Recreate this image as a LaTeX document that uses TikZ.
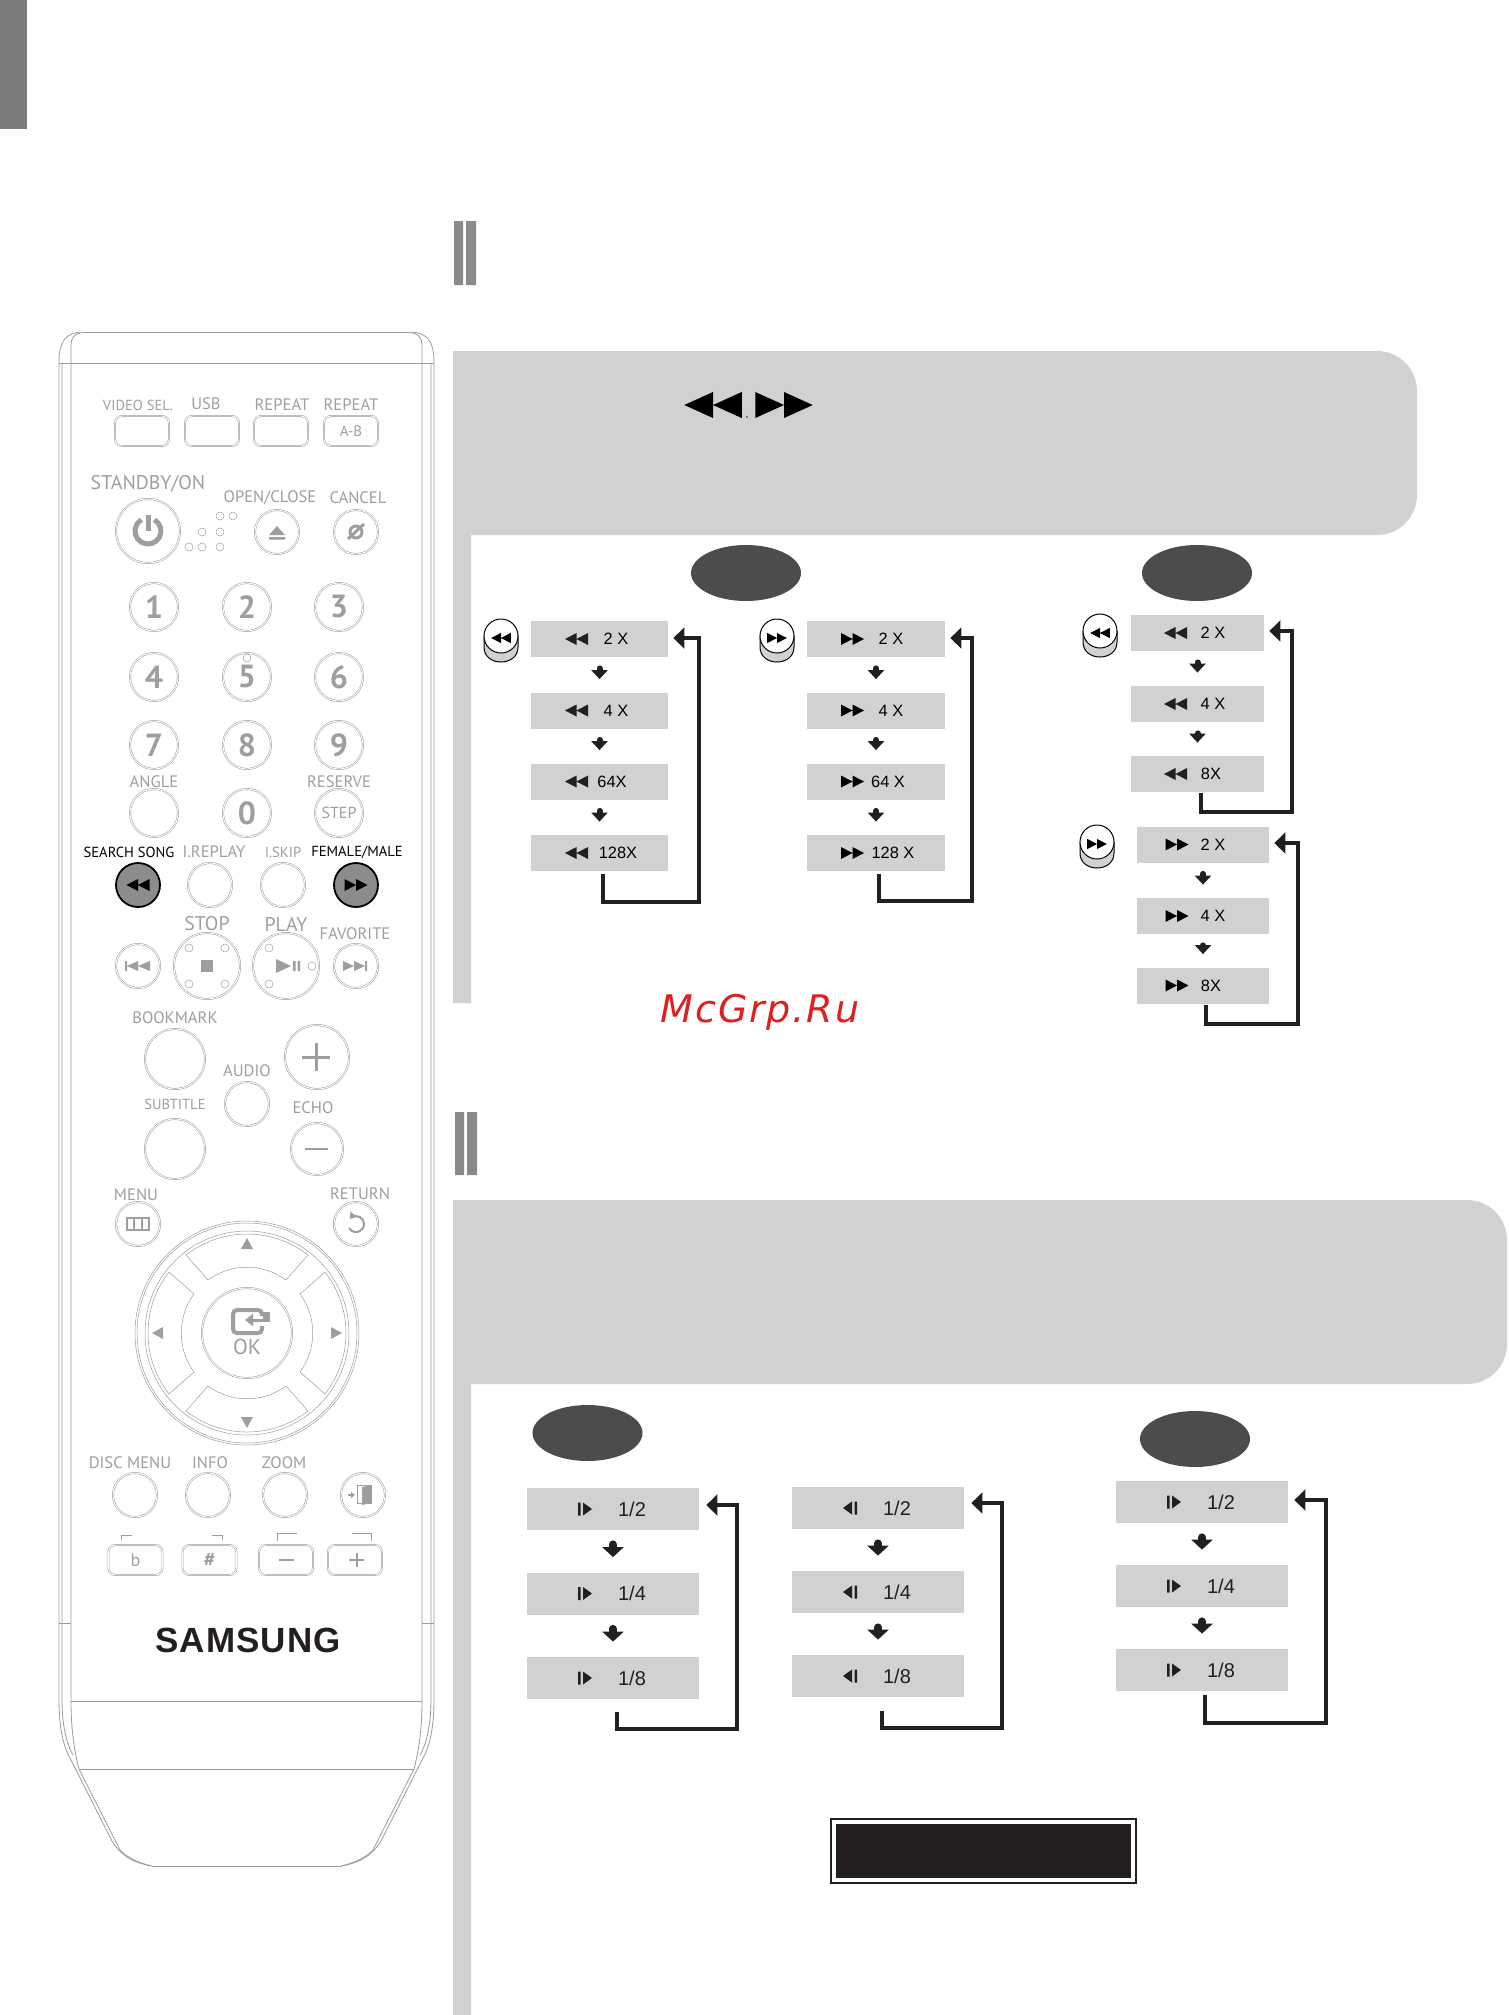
\documentclass[tikz,border=0pt]{standalone}
\usepackage{fontspec}
\setmainfont{Liberation Sans}
\newfontfamily\rcfont{PT Sans}
\newfontfamily\markfont[LetterSpace=5]{DejaVu Sans}
\newfontfamily\logofont[LetterSpace=3]{Liberation Sans}
\usetikzlibrary{arrows.meta,shapes.geometric}

\definecolor{panelgray}{HTML}{D1D1D1}
\definecolor{ovalgray}{HTML}{4D4B4C}
\definecolor{inkdark}{HTML}{231F20}
\definecolor{rcline}{HTML}{9C9C9C}
\definecolor{rctext}{HTML}{9E9E9E}
\definecolor{markred}{HTML}{DF2020}

\tikzset{
    % speed charts
    speedbox/.style 2 args={fill=panelgray,minimum width=#1*0.5pt,minimum height=#2*0.5pt,inner sep=0pt},
    speedtext/.style={inner sep=0pt,font=\fontsize{8.2}{10}\selectfont,text=black},
    slowtext/.style={inner sep=0pt,font=\fontsize{10}{12}\selectfont,text=inkdark},
    tagoval/.style={ellipse,fill=ovalgray,minimum width=110*0.5pt,minimum height=56*0.5pt,inner sep=0pt},
    loopline/.style={draw=inkdark,line width=1.75pt,-{Triangle[length=5.5pt,width=10.5pt]}},
    steparrow/.style={draw=inkdark,line width=3pt,line cap=round,-{Triangle[length=4.5pt,width=8pt]},shorten <=5.5pt,shorten >=6.5pt},
    bigsteparrow/.style={draw=inkdark,line width=4pt,line cap=round,-{Triangle[length=5pt,width=10.5pt]},shorten <=7pt,shorten >=7.5pt},
    % remote
    rcbody/.style={draw=rcline,line width=0.4pt},
    rcbtn/.style={circle,draw=rcline,line width=0.25pt,double=white,double distance=0.45pt,minimum size=#1*0.5pt,inner sep=0pt,text=rctext},
    rcbar/.style={rectangle,rounded corners=3.5pt,draw=rcline,line width=0.25pt,double=white,double distance=0.45pt,minimum width=54*0.5pt,minimum height=30*0.5pt,inner sep=0pt,text=rctext},
    rclabel/.style={inner sep=0pt,text=rctext,font=\rcfont\fontsize{8.3}{10}\selectfont},
    rclabelsmall/.style={inner sep=0pt,text=rctext,font=\rcfont\fontsize{7.3}{9}\selectfont},
    rclabelbig/.style={inner sep=0pt,text=rctext,font=\rcfont\fontsize{9.9}{11}\selectfont},
    rcdigit/.style={font=\rcfont\bfseries\fontsize{16}{18}\selectfont},
    rcdot/.style={draw=rcline,line width=0.25pt},
    rcicon/.style={fill=rctext,draw=none},
    rcstroke/.style={draw=rctext,line width=#1*0.5pt},
    % little marks
    revmark/.pic={\fill (-11.5,0)--(0,-6)--(0,6)--cycle (0,0)--(11.5,-6)--(11.5,6)--cycle;},
    fwdmark/.pic={\fill (11.5,0)--(0,-6)--(0,6)--cycle (0,0)--(-11.5,-6)--(-11.5,6)--cycle;},
    stepfwd/.pic={\fill (-7,-6.5) rectangle (-4.5,6.5) (-2,-6.5)--(7,0)--(-2,6.5)--cycle;},
    steprev/.pic={\fill (7,-6.5) rectangle (4.5,6.5) (2,-6.5)--(-7,0)--(2,6.5)--cycle;},
    keycap/.pic={
        \filldraw[fill=panelgray,draw=black,line width=0.5pt] (-17,-4) -- (-17,7) .. controls (-17,27) and (17,27) .. (17,7) -- (17,-4) -- cycle;
        \filldraw[fill=white,draw=black,line width=0.5pt] (0,-4) ellipse[x radius=17,y radius=17];
    },
}

\begin{document}
\begin{tikzpicture}[x=0.5pt,y=-0.5pt]
\useasboundingbox (0,0) rectangle (1509,2015);

% Page marks
\fill[fill=black!52!white] (0,0) rectangle (27,129);
\fill[fill=black!46!white] (454,221) rectangle (463,285) (466,221) rectangle (476,285);
\fill[fill=black!46!white] (455,1112) rectangle (464,1175) (467,1112) rectangle (477,1175);

% Panels
\fill[panelgray] (453,351) [rounded corners=20pt] -- (1417,351) -- (1417,535) [sharp corners] -- (471,535) -- (471,1003) -- (453,1003) -- cycle;
\fill[panelgray] (453,1200) [rounded corners=20pt] -- (1507,1200) -- (1507,1384) [sharp corners] -- (471,1384) -- (471,2015) -- (453,2015) -- cycle;

% Heading marks
\pic[black,xscale=2.5,yscale=2.17] at (713,405) {revmark};
\pic[black,xscale=2.5,yscale=2.17] at (784,405) {fwdmark};
\node[inner sep=0pt,font=\fontsize{5}{6}\selectfont] (headcomma) at (747,418) {,};

% Ovals
\node[tagoval] (ovala) at (746,573) {};
\node[tagoval] (ovalb) at (1197,573) {};
\node[tagoval] (ovalc) at (587.5,1433) {};
\node[tagoval] (ovald) at (1195,1439) {};

% Key icons
\pic at (501,640) {keycap};
\pic at (777,640) {keycap};
\pic at (1100,635) {keycap};
\pic at (1097,846) {keycap};
\pic[black,scale=0.85] at (501,638) {revmark};
\pic[black,scale=0.85] at (777,638) {fwdmark};
\pic[black,scale=0.85] at (1100,633) {revmark};
\pic[black,scale=0.85] at (1097,844) {fwdmark};

% Charts
\foreach \n/\cy/\tx/\t in {a/639/616/{2 X},b/710.5/616/{4 X},c/781.5/612/{64X},d/853/618/{128X}}{
    \node[speedbox={137}{36}] (one\n) at (599.5,\cy) {};
    \pic[inkdark] at (576.5,\cy) {revmark};
    \node[speedtext] (onet\n) at (\tx,\cy) {\t};
}
\foreach \n/\cy/\tx/\t in {a/639/891/{2 X},b/710.5/891/{4 X},c/781.5/888/{64 X},d/853/893/{128 X}}{
    \node[speedbox={138}{36}] (two\n) at (876,\cy) {};
    \pic[black] at (852.5,\cy) {fwdmark};
    \node[speedtext] (twot\n) at (\tx,\cy) {\t};
}
\foreach \n/\cy/\tx/\t in {a/633/1213/{2 X},b/704/1213/{4 X},c/774/1211/{8X}}{
    \node[speedbox={133}{36}] (thr\n) at (1197.5,\cy) {};
    \pic[inkdark] at (1175.5,\cy) {revmark};
    \node[speedtext] (thrt\n) at (\tx,\cy) {\t};
}
\foreach \n/\cy/\tx/\t in {a/844.5/1213/{2 X},b/916/1213/{4 X},c/985.5/1211/{8X}}{
    \node[speedbox={132}{36}] (fou\n) at (1203,\cy) {};
    \pic[black] at (1177,\cy) {fwdmark};
    \node[speedtext] (fout\n) at (\tx,\cy) {\t};
}
\foreach \n/\cy/\t in {a/1509/{1/2},b/1593.5/{1/4},c/1678/{1/8}}{
    \node[speedbox={172}{42}] (fiv\n) at (613,\cy) {};
    \pic[inkdark] at (585,\cy) {stepfwd};
    \node[slowtext] (fivt\n) at (632,\cy) {\t};
}
\foreach \n/\cy/\t in {a/1508/{1/2},b/1592/{1/4},c/1676/{1/8}}{
    \node[speedbox={172}{42}] (six\n) at (878,\cy) {};
    \pic[inkdark] at (850,\cy) {steprev};
    \node[slowtext] (sixt\n) at (897,\cy) {\t};
}
\foreach \n/\cy/\t in {a/1502/{1/2},b/1586/{1/4},c/1670/{1/8}}{
    \node[speedbox={172}{42}] (sev\n) at (1202,\cy) {};
    \pic[inkdark] at (1174,\cy) {stepfwd};
    \node[slowtext] (sevt\n) at (1221,\cy) {\t};
}

% Steps
\draw[steparrow] (onea) -- (oneb);
\draw[steparrow] (oneb) -- (onec);
\draw[steparrow] (onec) -- (oned);
\draw[steparrow] (twoa) -- (twob);
\draw[steparrow] (twob) -- (twoc);
\draw[steparrow] (twoc) -- (twod);
\draw[steparrow] (thra) -- (thrb);
\draw[steparrow] (thrb) -- (thrc);
\draw[steparrow] (foua) -- (foub);
\draw[steparrow] (foub) -- (fouc);
\draw[bigsteparrow] (fiva) -- (fivb);
\draw[bigsteparrow] (fivb) -- (fivc);
\draw[bigsteparrow] (sixa) -- (sixb);
\draw[bigsteparrow] (sixb) -- (sixc);
\draw[bigsteparrow] (seva) -- (sevb);
\draw[bigsteparrow] (sevb) -- (sevc);

% Return loops
\coordinate (ones) at (603,874);
\coordinate (oner) at (699,902);
\draw[loopline] (ones) |- (oner) |- ([shift={(5,-1)}]onea.east);
\coordinate (twos) at (879,874);
\coordinate (twor) at (972,901);
\draw[loopline] (twos) |- (twor) |- ([shift={(5,-1)}]twoa.east);
\coordinate (thrs) at (1201,793);
\coordinate (thrr) at (1292,812);
\draw[loopline] (thrs) |- (thrr) |- ([shift={(5,-2)}]thra.east);
\coordinate (fous) at (1206,1005);
\coordinate (four) at (1298,1024);
\draw[loopline] (fous) |- (four) |- ([shift={(5,-1.5)}]foua.east);
\coordinate (fivs) at (617,1712);
\coordinate (fivr) at (737,1729);
\draw[loopline] (fivs) |- (fivr) |- ([shift={(7,-4)}]fiva.east);
\coordinate (sixs) at (882,1711);
\coordinate (sixr) at (1002,1728);
\draw[loopline] (sixs) |- (sixr) |- ([shift={(7,-5)}]sixa.east);
\coordinate (sevs) at (1205,1695);
\coordinate (sevr) at (1326,1723);
\draw[loopline] (sevs) |- (sevr) |- ([shift={(6,-2)}]seva.east);

% Note box
\draw[draw=inkdark,line width=0.75pt] (831,1819) rectangle (1136,1883);
\fill[inkdark] (836,1824) rectangle (1131,1878);

% Watermark
\node[inner sep=0pt,text=markred,font=\markfont\itshape\fontsize{19}{22}\selectfont] (mark) at (760,1012) {McGrp.Ru};

% Remote body
\foreach \s in {1,-1}{
    \begin{scope}[shift={(246.5,0)},xscale=\s]
        \draw[rcbody] (-187.5,363) .. controls (-187.5,340) and (-180,333) .. (-165,332);
        \draw[rcbody] (-187.5,363) -- (-187.5,1699) .. controls (-187.5,1725) and (-184,1745) .. (-176.5,1758) -- (-134.5,1841) .. controls (-125,1856) and (-115,1862) .. (-95,1866);
        \draw[rcbody] (-184.5,363) -- (-184.5,1699) .. controls (-184.5,1722) and (-181,1742) .. (-173.5,1755);
        \draw[rcbody] (-175.5,345) .. controls (-175.5,338) and (-172,334) .. (-166,333);
        \draw[rcbody] (-175.5,345) -- (-175.5,1701) .. controls (-175.5,1730) and (-172,1752) .. (-167.5,1769) -- (-126.5,1850) .. controls (-118,1858) and (-110,1862) .. (-95,1866);
        \draw[rcbody] (-187.5,363) -- (0,363);
        \draw[rcbody] (-187.5,1623) -- (-175.5,1623);
        \draw[rcbody] (-175.5,1701) -- (0,1701);
        \draw[rcbody] (-167.5,1769) -- (0,1769);
        \draw[rcbody] (-95,1866) -- (0,1866);
        \draw[rcbody] (-165,332) -- (0,332);
    \end{scope}
}

% Remote buttons
\foreach \n/\x/\y/\t in {one/154/607/1,two/247/607/2,thr/339/607/3,fou/154/677/4,fiv/247/677/5,six/339/677/6,sev/154/745/7,eig/247/745/8,nin/339/745/9,zer/247/813/0}{
    \node[rcbtn=48,rcdigit] (key\n) at (\x,\y) {\t};
}
\foreach \n/\x/\y/\d in {power/148/531/64,eject/277/532/44,cancel/356/532/44,angle/154/813/48,step/339/813/48,
    replay/210/885/44,skip/283/885/44,prev/138/966/44,stop/207/966/66,play/286/966/66,next/356/966/44,
    book/175/1059/60,plus/317/1057/64,audio/247/1104/44,subt/175/1149/60,minus/317/1149/52,
    menu/138/1224/44,ret/356/1224/44,ok/247/1333/90,disc/135/1495/44,info/208/1495/44,zoom/285/1495/44,exit/363/1495/44}{
    \node[rcbtn=\d] (btn\n) at (\x,\y) {};
}
\node[rclabel,font=\rcfont\fontsize{8}{9}\selectfont] (lbstep) at (btnstep) {STEP};
\node[rcbtn=44,draw=black,fill=black!45!white,double=none,line width=0.9pt] (btnrew) at (138,885) {};
\node[rcbtn=44,draw=black,fill=black!45!white,double=none,line width=0.9pt] (btnfwd) at (356,885) {};
\pic[black] at (138,885) {revmark};
\pic[black] at (356,885) {fwdmark};

\foreach \n/\x/\y in {vid/142/431,usb/212/431,rep/281/431}{
    \node[rcbar] (bar\n) at (\x,\y) {};
}
\node[rcbar] (barab) at (351,431) {\rcfont\fontsize{7.5}{8}\selectfont A-B};
\foreach \n/\x/\y in {fl/135.5/1560,sh/209.5/1560,mi/286/1560,pl/355/1560}{
    \node[rcbar] (bar\n) at (\x,\y) {};
}
\node[text=rctext,inner sep=0pt,font=\rcfont\fontsize{9}{10}\selectfont] (lbflat) at (barfl) {b};
\node[text=rctext,inner sep=0pt,font=\rcfont\bfseries\fontsize{10}{10}\selectfont] (lbsharp) at (barsh) {\#};

% Labels
\foreach \n/\x/\y/\t in {b/206/404/{USB},c/282/405/{REPEAT},d/351/405/{REPEAT},
    e/270/498/{OPEN/CLOSE},f/358/498/{CANCEL},g/154/782/{ANGLE},h/339/782/{RESERVE},
    i/214/852/{I.REPLAY},k/355/934/{FAVORITE},
    l/175/1018/{BOOKMARK},m/247/1071/{AUDIO},o/313/1108/{ECHO},
    p/136/1195/{MENU},q/360/1194/{RETURN},r/130/1463/{DISC MENU},s/210/1463/{INFO},t/284/1463/{ZOOM}}{
    \node[rclabel] (lb\n) at (\x,\y) {\t};
}
\foreach \n/\x/\y/\t in {a/138/405/{VIDEO SEL.},j/283/852/{I.SKIP},n/175/1104/{SUBTITLE}}{
    \node[rclabelsmall] (lb\n) at (\x,\y) {\t};
}
\foreach \n/\x/\y/\t in {u/148/484/{STANDBY/ON},v/207/924/{STOP},w/286/924/{PLAY}}{
    \node[rclabelbig] (lb\n) at (\x,\y) {\t};
}
\node[rclabelsmall,text=black] (lbsearch) at (129,852) {SEARCH SONG};
\node[rclabelsmall,text=black] (lbfemale) at (357,852) {FEMALE/MALE};
\node[rclabel,font=\rcfont\fontsize{10.8}{12}\selectfont] (lbok) at (247,1347) {OK};

% Remote dots
\foreach \x/\y in {220/516,233/516,202/532,220/532,189/547,202/547,220/547,247/658,189/948,225/948,189/984,225/984,269/948,312/966,269/984}{
    \draw[rcdot] (\x,\y) circle[radius=4];
}

% Remote icons
\draw[rcstroke=5] (148,531) ++(-60:13) arc[start angle=-60,end angle=240,radius=13];
\draw[rcstroke=5] (148,515) -- (148,531);
\fill[rcicon] (277,526) -- (285,535) -- (269,535) -- cycle (269,537) rectangle (285,539.5);
\draw[rcstroke=3] (356,532) circle[radius=6] (348,539) -- (364,524);
\fill[rcicon] (125,961) rectangle (127,971) (127,966) -- (138,961) -- (138,971) -- cycle (138,966) -- (150,961) -- (150,971) -- cycle;
\fill[rcicon] (367,961) rectangle (365,971) (365,966) -- (354,961) -- (354,971) -- cycle (354,966) -- (343,961) -- (343,971) -- cycle;
\fill[rcicon] (201,960) rectangle (213,972);
\fill[rcicon] (276,959) -- (291,966) -- (276,973) -- cycle (293,961) rectangle (295.5,971) (297.5,961) rectangle (300,971);
\draw[rcstroke=3] (302,1057) -- (330,1057) (316,1043) -- (316,1071);
\draw[rcstroke=2] (305,1149) -- (328,1149);
\draw[rcstroke=1.5] (127,1218) rectangle (149,1230) (134,1218) -- (134,1230) (142,1218) -- (142,1230);
\draw[rcstroke=2,-{Triangle[length=3pt,width=4pt]}] (356,1224) ++(150:8) arc[start angle=150,end angle=-140,radius=8];
\foreach \a in {0,90,180,270}{
    \draw[rcbody,line width=0.25pt,rotate around={\a:(247,1333)}] (186,1255) .. controls (222,1227) and (272,1227) .. (308,1255) -- (286,1280) .. controls (263,1263) and (231,1263) .. (208,1280) -- cycle;
}
\draw[rcbody,line width=0.25pt] (247,1333) circle[radius=112] circle[radius=110] circle[radius=102];
\fill[rcicon] (247,1238) -- (253,1249) -- (241,1249) -- cycle (247,1428) -- (253,1417) -- (241,1417) -- cycle (152,1333) -- (163,1327) -- (163,1339) -- cycle (342,1333) -- (331,1327) -- (331,1339) -- cycle;
\draw[rcstroke=4,rounded corners=2pt] (262,1316) -- (262,1310) -- (233,1310) -- (233,1333) -- (262,1333) -- (262,1326);
\draw[rcstroke=3,-{Triangle[length=4pt,width=6pt]}] (269,1320) -- (245,1320);
\fill[rcicon] (263,1312) rectangle (270,1322);
\draw[rcstroke=1.5,-{Triangle[length=2pt,width=3pt]}] (348,1495) -- (355,1495);
\draw[rcstroke=1] (357,1485) rectangle (371,1503);
\fill[rcicon] (362,1487) -- (371,1485) -- (371,1503) -- (362,1505) -- cycle;
\draw[rcstroke=1] (121,1540) -- (121,1535) -- (132,1535);
\draw[rcstroke=1] (212,1535) -- (222,1535) -- (222,1540);
\draw[rcstroke=1] (277,1541) -- (277,1533) -- (297,1533);
\draw[rcstroke=1] (352,1533) -- (371,1533) -- (371,1541);
\draw[rcstroke=2] (279,1560) -- (294,1560) (349,1560) -- (364,1560) (356.5,1553) -- (356.5,1567);

% Logo
\node[inner sep=0pt,text=inkdark,font=\logofont\bfseries\fontsize{17.5}{20}\selectfont] (logo) at (248,1640) {SAMSUNG};
\end{tikzpicture}
\end{document}
